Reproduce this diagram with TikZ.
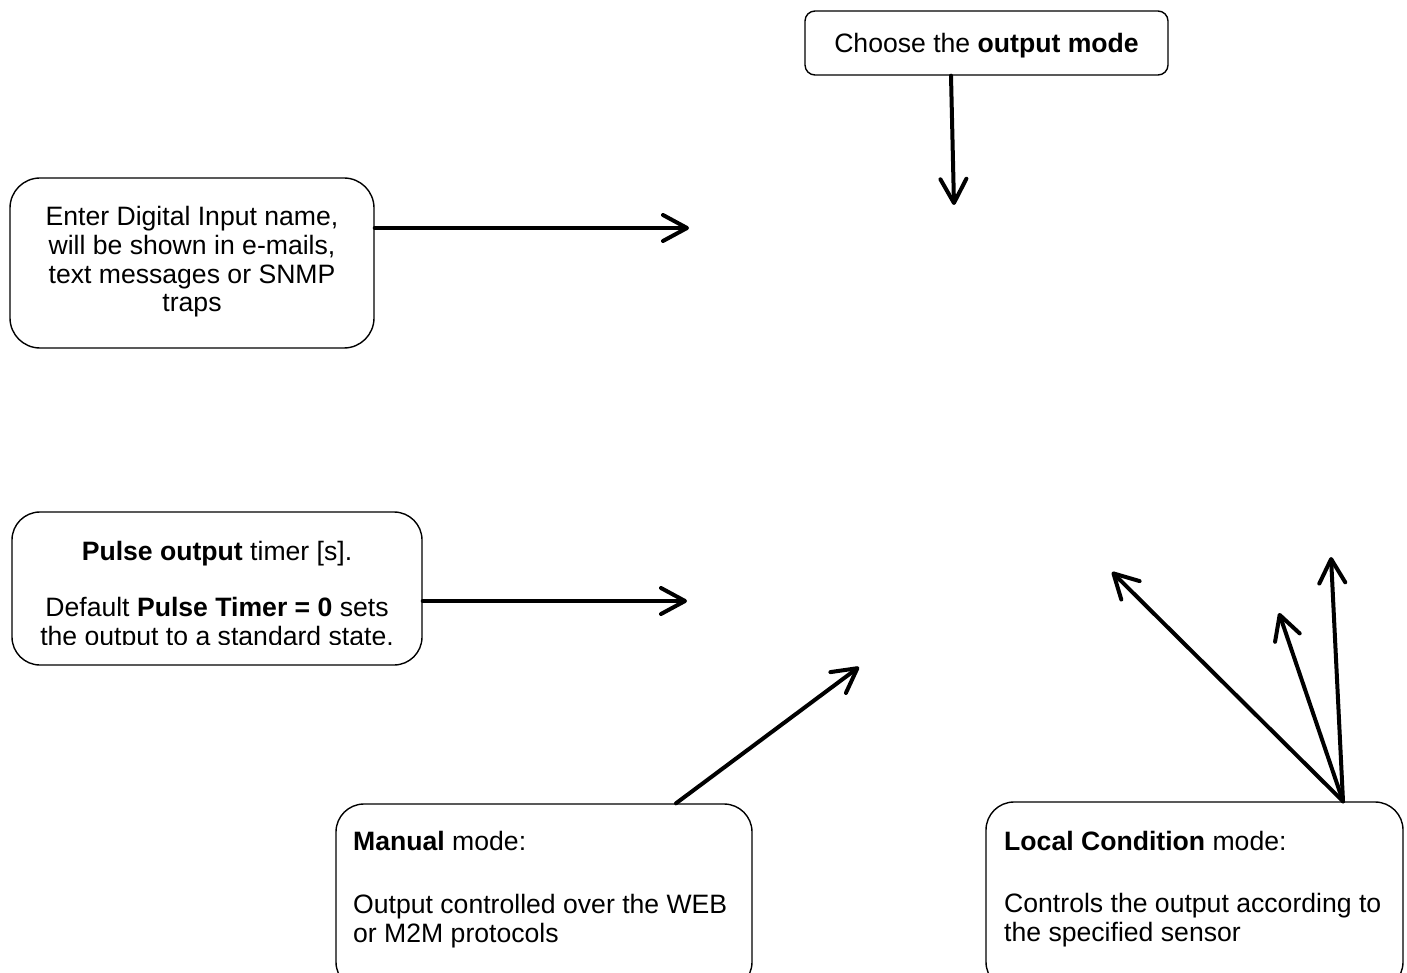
\documentclass[tikz,border=0pt]{standalone}
\usepackage{fontspec}
\setmainfont{Liberation Sans}
\usetikzlibrary{arrows.meta}
\begin{document}
\begin{tikzpicture}[x=1pt,y=-1pt,
  box/.style={draw, line width=1.4pt, rounded corners=28pt, inner sep=0pt},
  arr/.style={line width=4pt, line cap=round, -{Straight Barb[length=24pt,width=26pt,line cap=round,line join=round]}},
  txt/.style={font=\fontsize{26.6}{28.6}\selectfont, inner sep=0pt}]
\useasboundingbox (0,0) rectangle (1407,973);
\clip (0,0) rectangle (1407,973);

% boxes
\node[box, rounded corners=10pt, minimum width=363pt, minimum height=64pt, txt, text depth=0pt] (choose) at (986.5,43) {Choose the \textbf{output mode}};
\node[box, rounded corners=30pt, minimum width=364pt, minimum height=170pt] (enter) at (192,263) {};
\node[txt, align=center] (entertext) at (192,262) {Enter Digital Input name,\\will be shown in e-mails,\\text messages or SNMP\\traps};
\node[box, minimum width=410pt, minimum height=153pt] (pulse) at (217,588.5) {};
\begin{scope}
  \clip (0,0) rectangle (1407,644);
  \node[txt, align=center, anchor=base] (pulsetext) at (217,645) {\textbf{Pulse output} timer [s].\\[27.4pt]Default \textbf{Pulse Timer = 0} sets\\[0.4pt]the output to a standard state.};
\end{scope}
\node[box, minimum width=416pt, minimum height=186pt] (manual) at (544,897) {};
\node[txt, align=left, anchor=base west] (manualtext) at (353,942) {\textbf{Manual} mode:\\[34.4pt]Output controlled over the WEB\\or M2M protocols};
\node[box, minimum width=417pt, minimum height=188pt] (local) at (1194.5,896) {};
\node[txt, align=left, anchor=base west] (localtext) at (1004,941) {\textbf{Local Condition} mode:\\[33.8pt]Controls the output according to\\the specified sensor};

% free ends
\coordinate (chooseend) at (954,205);
\coordinate (enterend) at (689,228);
\coordinate (pulseend) at (687,601);
\coordinate (manualend) at (859,667);
\coordinate (localendA) at (1112,572);
\coordinate (localendB) at (1279,613);
\coordinate (localendC) at (1331,557);

% connectors
\draw[arr] ([xshift=-35.5pt]choose.south) -- (chooseend);
\draw[arr] ([yshift=35pt]enter.east) -- (enterend);
\draw[arr] ([yshift=-12.5pt]pulse.east) -- (pulseend);
\draw[arr] ([xshift=132pt]manual.north) -- (manualend);
\draw[arr] ([xshift=148.5pt]local.north) -- (localendA);
\draw[arr] ([xshift=148.5pt]local.north) -- (localendB);
\draw[arr] ([xshift=148.5pt]local.north) -- (localendC);
\end{tikzpicture}
\end{document}
